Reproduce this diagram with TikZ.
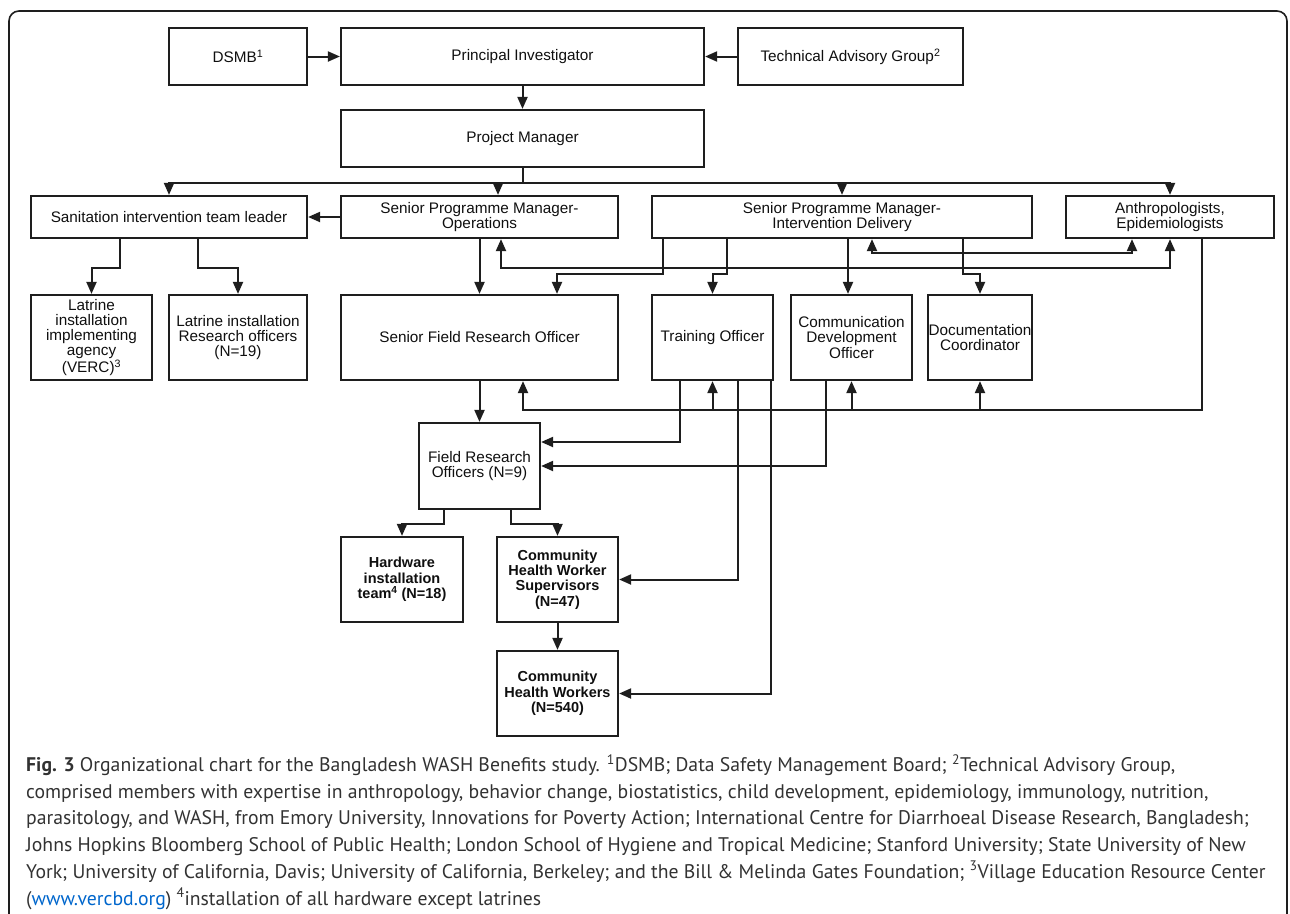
\documentclass[tikz,border=0pt]{standalone}
\usepackage{fontspec}
\setmainfont{Liberation Sans}
\newfontfamily\capfont{PT Sans}
\usetikzlibrary{arrows.meta}
\definecolor{chartline}{RGB}{30,30,30}
\definecolor{charttext}{RGB}{15,15,15}
\definecolor{captext}{RGB}{50,50,50}
\definecolor{linkblue}{RGB}{0,102,204}

\begin{document}
\begin{tikzpicture}[x=1pt, y=-1pt,
    dims/.style 2 args={minimum width=#1pt, minimum height=#2pt},
    box/.style={draw=chartline, line width=2.2pt, inner sep=0pt, align=center, text=charttext, font=\fontsize{15.3}{15.3}\selectfont},
    boldbox/.style={box, font=\fontsize{14.5}{15.3}\selectfont\bfseries},
    arr/.style={draw=chartline, line width=2pt, -{Triangle[length=12pt,width=10pt]}},
    twoway/.style={arr, {Triangle[length=12pt,width=10pt]}-{Triangle[length=12pt,width=10pt]}}]
    \path[use as bounding box] (0,0) rectangle (1290,913);
    \clip (0,0) rectangle (1290,913);

    % Frame
    \draw[chartline, line width=1.6pt, rounded corners=10pt] (9,940) -- (9,11) -- (1287,11) -- (1287,940);

    % Top rows
    \node[box, dims={138}{57}] (dsmb) at (238,56.5) {DSMB\textsuperscript{1}};
    \node[box, dims={363}{57}] (pi) at (522.5,56.5) {Principal Investigator};
    \node[box, dims={225}{57}] (tag) at (850.5,56.5) {Technical Advisory Group\textsuperscript{2}};
    \node[box, dims={363}{57}] (pm) at (522.5,138.5) {Project Manager};

    \node[box, dims={276}{42}] (san) at (169,217) {Sanitation intervention team leader};
    \node[box, dims={277}{42}] (spmo) at (479.5,217) {Senior Programme Manager-\\Operations};
    \node[box, dims={380}{42}] (spmi) at (842,217) {Senior Programme Manager-\\Intervention Delivery};
    \node[box, dims={208}{42}] (anth) at (1170,217) {Anthropologists,\\Epidemiologists};

    % Officers
    \node[box, dims={121}{85}] (lia) at (91.5,337.5) {Latrine\\installation\\implementing\\agency\\(VERC)\textsuperscript{3}};
    \node[box, dims={138}{85}] (lro) at (238,337.5) {Latrine installation\\Research officers\\(N=19)};
    \node[box, dims={277}{85}] (sfro) at (479.5,337.5) {Senior Field Research Officer};
    \node[box, dims={121}{85}] (to) at (712.5,337.5) {Training Officer};
    \node[box, dims={121}{85}] (cdo) at (851.5,337.5) {Communication\\Development\\Officer};
    \node[box, dims={104}{85}] (dc) at (980,337.5) {Documentation\\Coordinator};

    % Field level
    \node[box, dims={121}{86}] (fro) at (479.5,466) {Field Research\\Officers (N=9)};
    \node[boldbox, dims={122}{85}] (hw) at (402,579.5) {Hardware\\installation\\team\textsuperscript{4} (N=18)};
    \node[boldbox, dims={121}{85}] (chws) at (557.5,579.5) {Community\\Health Worker\\Supervisors\\(N=47)};
    \node[boldbox, dims={121}{85}] (chw) at (557.5,693.5) {Community\\Health Workers\\(N=540)};

    % Arrows
    \draw[arr] (dsmb) -- (pi);
    \draw[arr] (tag) -- (pi);
    \draw[arr] (pi) -- (pm);
    \draw[arr] (pm.south) -- ++(0,15) -| (san.north);
    \draw[arr] (pm.south) -- ++(0,15) -| ([xshift=18.5pt]spmo.north);
    \draw[arr] (pm.south) -- ++(0,15) -| (spmi.north);
    \draw[arr] (pm.south) -- ++(0,15) -| (anth.north);
    \draw[arr] (spmo) -- (san);
    \draw[arr] ([xshift=-49pt]san.south) -- ++(0,29) -| (lia.north);
    \draw[arr] ([xshift=29pt]san.south) -- ++(0,29) -| (lro.north);
    \draw[arr] (spmo) -- (sfro);
    \draw[twoway] ([xshift=21.5pt]spmo.south) -- ++(0,29) -| (anth.south);
    \draw[twoway] ([xshift=30pt]spmi.south) -- ++(0,14) -| ([xshift=-38pt]anth.south);
    \draw[arr] ([xshift=-179pt]spmi.south) -- ++(0,35) -| ([xshift=77.5pt]sfro.north);
    \draw[arr] ([xshift=-115pt]spmi.south) -- ++(0,35) -| (to.north);
    \draw[arr] ([xshift=6pt]spmi.south) -- ([xshift=-3.5pt]cdo.north);
    \draw[arr] ([xshift=121pt]spmi.south) -- ++(0,35) -| (dc.north);

    \coordinate (abus) at ([xshift=32pt,yshift=-171pt]anth.south);
    \draw[arr] ([xshift=32pt]anth.south) -- (abus) -| ([xshift=43.5pt]sfro.south);
    \draw[arr] (abus) -| (to.south);
    \draw[arr] (abus) -| (cdo.south);
    \draw[arr] (abus) -| (dc.south);

    \draw[arr] (sfro) -- (fro);
    \draw[arr] ([xshift=-32.5pt]to.south) |- ([yshift=24pt]fro.east);
    \draw[arr] ([xshift=-25.5pt]cdo.south) |- (fro.east);
    \draw[arr] ([xshift=25.5pt]to.south) |- (chws.east);
    \draw[arr] ([xshift=58.5pt]to.south) |- (chw.east);
    \draw[arr] ([xshift=-35.5pt]fro.south) -- ++(0,14) -| (hw.north);
    \draw[arr] ([xshift=31.5pt]fro.south) -- ++(0,14) -| (chws.north);
    \draw[arr] (chws) -- (chw);

    % Caption
    \node[anchor=north west, inner sep=0pt, align=left, text=captext, font=\capfont\fontsize{19.7}{26.7}\selectfont] (caption) at (26,754)
      {\textbf{Fig. 3} Organizational chart for the Bangladesh WASH Benefits study. \textsuperscript{1}DSMB; Data Safety Management Board; \textsuperscript{2}Technical Advisory Group,\\
       comprised members with expertise in anthropology, behavior change, biostatistics, child development, epidemiology, immunology, nutrition,\\
       parasitology, and WASH, from Emory University, Innovations for Poverty Action; International Centre for Diarrhoeal Disease Research, Bangladesh;\\
       Johns Hopkins Bloomberg School of Public Health; London School of Hygiene and Tropical Medicine; Stanford University; State University of New\\
       York; University of California, Davis; University of California, Berkeley; and the Bill \& Melinda Gates Foundation; \textsuperscript{3}Village Education Resource Center\\
       ({\color{linkblue}www.vercbd.org}) \textsuperscript{4}installation of all hardware except latrines};
\end{tikzpicture}
\end{document}
